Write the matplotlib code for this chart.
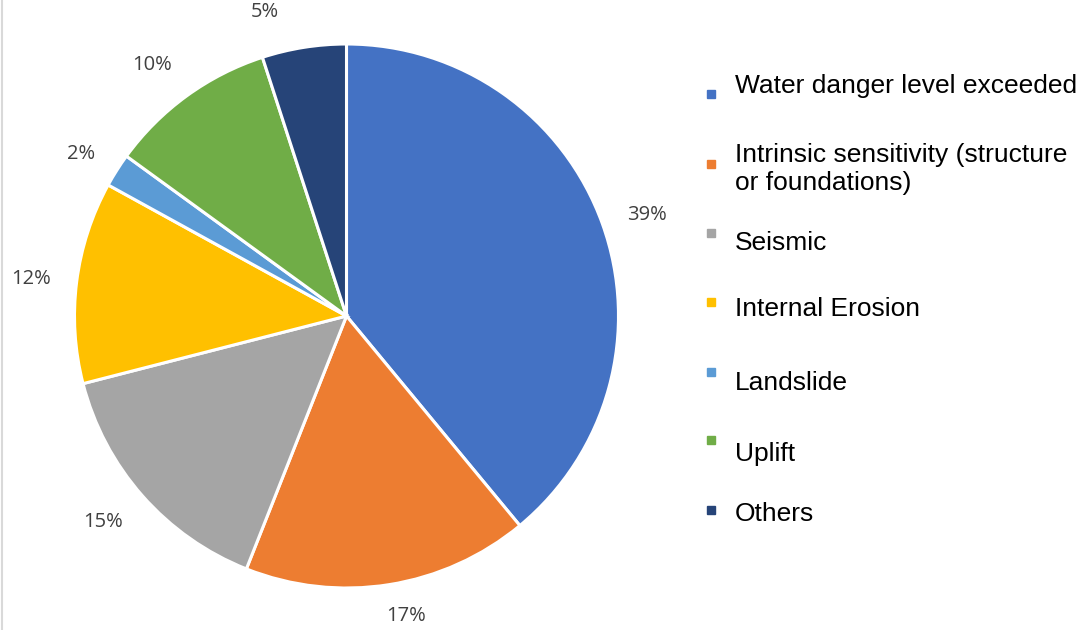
import numpy as np
import matplotlib.pyplot as plt

# causes of dam failure (share, %)
causes = ['Water danger level exceeded',
          'Intrinsic sensitivity (structure\nor foundations)',
          'Seismic', 'Internal Erosion', 'Landslide', 'Uplift', 'Others']
shares = [39, 17, 15, 12, 2, 10, 5]
colors = ['#4472C4', '#ED7D31', '#A5A5A5', '#FFC000', '#5B9BD5', '#70AD47', '#264478']

W, H = 1084, 630
fig = plt.figure(figsize=(W / 100, H / 100), dpi=100)

cx, cy, r = 346.5, 316, 272
ax = fig.add_axes([(cx - r) / W, (H - cy - r) / H, 2 * r / W, 2 * r / H])
wedges, texts, autotexts = ax.pie(shares, colors=colors, startangle=90, counterclock=False,
                                  radius=1, autopct='%d%%', pctdistance=1.1,
                                  wedgeprops=dict(edgecolor='white', linewidth=2.2))

# labels sit just outside the rim, anchored by their nearest side (like Excel)
# small nudges (in pixels) where Excel moved a label along the rim
nudge = [(0, 0), (13, 4), (0, -9), (0, 0), (0, 2), (0, 0), (-35, 0)]
for w, t, (nx, ny) in zip(wedges, autotexts, nudge):
    ang = np.deg2rad((w.theta1 + w.theta2) / 2)
    c, s = np.cos(ang), np.sin(ang)
    t.set_position((1.095 * c + nx / r, 1.095 * s + ny / r))
    t.set_ha('left' if c > 0.3 else 'right' if c < -0.3 else 'center')
    t.set_va('bottom' if s > 0.7 else 'top' if s < -0.7 else 'center')
    t.set_color('#404040')
    t.set_fontsize(14.5)
    t.set_family('Open Sans')
ax.set_xlim(-1, 1)
ax.set_ylim(-1, 1)
ax.set_aspect('equal')

# legend drawn by hand (entries are not evenly spaced in the original)
marker_y = [94, 164, 233, 302, 372, 440, 510]
text_y = [86, 169, 243, 309, 383, 454, 514]
for c, lab, my, ty in zip(colors, causes, marker_y, text_y):
    fig.patches.append(plt.Rectangle(((711 - 4) / W, 1 - (my + 4) / H), 8 / W, 8 / H,
                                     transform=fig.transFigure, color=c, figure=fig))
    fig.text(735 / W, 1 - ty / H, lab, fontsize=19, family='Liberation Sans',
             color='#000000', va='center', ha='left', linespacing=1.25)

# faint frame edge at the left
fig.add_artist(plt.Line2D([2 / W, 2 / W], [0, 1], color='#D9D9D9', lw=1.5))

fig.savefig('out.png', dpi=100)
